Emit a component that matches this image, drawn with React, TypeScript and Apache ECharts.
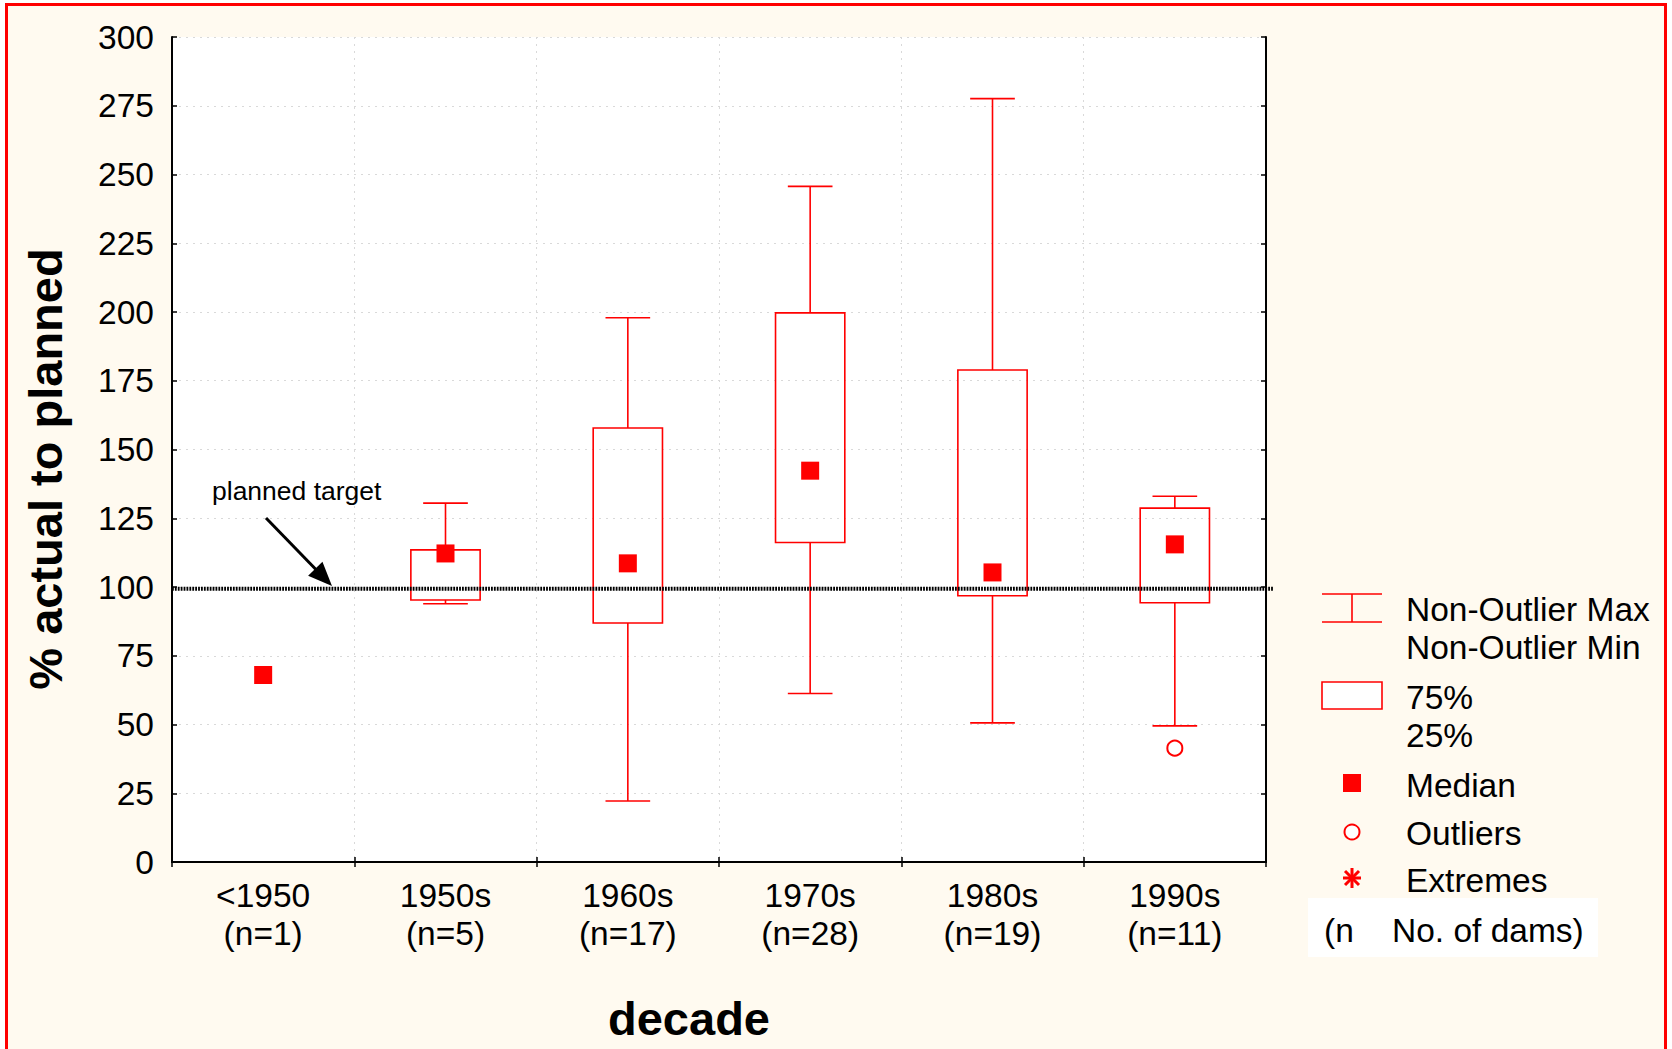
import React, { useEffect, useRef } from "react";
import * as echarts from "echarts";

const categories = ["<1950", "1950s", "1960s", "1970s", "1980s", "1990s"];
const counts = [1, 5, 17, 28, 19, 11];
const medians = [68.0, 112.2, 108.6, 142.3, 105.3, 115.5];
const whiskerMin = [null, 93.9, 22.2, 61.3, 50.6, 49.5];
const quartile1 = [null, 95.3, 86.9, 116.2, 96.8, 94.3];
const quartile3 = [null, 113.5, 157.8, 199.7, 178.9, 128.7];
const whiskerMax = [null, 130.5, 197.9, 245.7, 277.6, 133.0];
const outlierCategories = ["1990s"];
const outlierValues = [41.4];
const plannedTarget = 99.4;
const yMin = 0;
const yMax = 300;
const yInterval = 25;

const FONT = "'Liberation Sans', Arial, Helvetica, sans-serif";
const RED = "#ff0000";
const FS = 33.5;

export default function App() {
  const ref = useRef<HTMLDivElement>(null);

  useEffect(() => {
    if (!ref.current) return;
    const chart = echarts.init(ref.current, undefined, { renderer: "svg" });

    const labels = categories.map((c, i) => `${c}\n(n=${counts[i]})`);
    const boxData: number[][] = [];
    categories.forEach((_, i) => {
      if (whiskerMin[i] != null) {
        boxData.push([i, whiskerMin[i] as number, quartile1[i] as number, quartile3[i] as number, whiskerMax[i] as number]);
      }
    });
    const medianData = medians.map((m, i) => [i, m]);
    const outlierData = outlierCategories.map((c, k) => [categories.indexOf(c), outlierValues[k]]);

    const gridSplit = { show: true, lineStyle: { color: "#d9d9d9", type: [2, 5] as any, width: 1 } };
    const axLine = { show: true, lineStyle: { color: "#000", width: 2 } };
    const axTick = { show: true, inside: true, length: 5, lineStyle: { color: "#000", width: 1.5 } };

    // arrow geometry (annotation)
    const tip = [332, 586];
    const tail = [266, 518];
    const dx = tip[0] - tail[0];
    const dy = tip[1] - tail[1];
    const len = Math.sqrt(dx * dx + dy * dy);
    const ux = dx / len, uy = dy / len;
    const base = [tip[0] - 24 * ux, tip[1] - 24 * uy];
    const nx = -uy, ny = ux;

    const legendText = (text: string, x: number, y: number) => ({
      type: "text",
      x,
      y,
      style: { text, fontSize: FS, fontFamily: FONT, fill: "#000", align: "left", verticalAlign: "middle" },
    });
    const ast = { stroke: RED, lineWidth: 3 };

    chart.setOption({
      animation: false,
      backgroundColor: "transparent",
      grid: { left: 172, top: 37, right: 406, bottom: 187, show: true, backgroundColor: "#ffffff", borderWidth: 0 },
      xAxis: [
        {
          type: "category",
          data: labels,
          position: "bottom",
          boundaryGap: true,
          axisLine: axLine,
          axisTick: axTick,
          axisLabel: { fontSize: FS, lineHeight: 38, margin: 14, color: "#000", fontFamily: FONT },
          splitLine: gridSplit,
        },
        {
          type: "category",
          data: labels,
          position: "top",
          boundaryGap: true,
          axisLine: axLine,
          axisTick: axTick,
          axisLabel: { show: false },
          splitLine: { show: false },
        },
      ],
      yAxis: [
        {
          type: "value",
          min: yMin,
          max: yMax,
          interval: yInterval,
          axisLine: axLine,
          axisTick: axTick,
          axisLabel: { fontSize: FS, margin: 18, color: "#000", fontFamily: FONT },
          splitLine: gridSplit,
        },
        {
          type: "value",
          min: yMin,
          max: yMax,
          interval: yInterval,
          position: "right",
          axisLine: axLine,
          axisTick: axTick,
          axisLabel: { show: false },
          splitLine: { show: false },
        },
      ],
      series: [
        {
          type: "custom",
          name: "box",
          xAxisIndex: 0,
          yAxisIndex: 0,
          z: 2,
          data: boxData,
          encode: { x: 0, y: [1, 2, 3, 4] },
          renderItem: (params: any, api: any) => {
            const x = api.value(0);
            const lo = api.coord([x, api.value(1)]);
            const b1 = api.coord([x, api.value(2)]);
            const b3 = api.coord([x, api.value(3)]);
            const hi = api.coord([x, api.value(4)]);
            const band = api.size([1, 0])[0];
            const bw = band * 0.38;
            const cw = band * 0.245;
            const cx = lo[0];
            const st = { stroke: RED, lineWidth: 1.6, fill: "none" };
            return {
              type: "group",
              children: [
                { type: "line", shape: { x1: cx, y1: hi[1], x2: cx, y2: b3[1] }, style: st },
                { type: "line", shape: { x1: cx, y1: b1[1], x2: cx, y2: lo[1] }, style: st },
                { type: "line", shape: { x1: cx - cw / 2, y1: hi[1], x2: cx + cw / 2, y2: hi[1] }, style: st },
                { type: "line", shape: { x1: cx - cw / 2, y1: lo[1], x2: cx + cw / 2, y2: lo[1] }, style: st },
                { type: "rect", shape: { x: cx - bw / 2, y: b3[1], width: bw, height: b1[1] - b3[1] }, style: st },
              ],
            };
          },
        },
        {
          type: "custom",
          name: "planned target",
          xAxisIndex: 0,
          yAxisIndex: 0,
          z: 3,
          clip: false,
          data: [[0, plannedTarget]],
          renderItem: (params: any, api: any) => {
            const y = api.coord([0, api.value(1)])[1];
            const cs = params.coordSys;
            return {
              type: "line",
              shape: { x1: cs.x, y1: y, x2: cs.x + cs.width + 7, y2: y },
              style: { stroke: "#000", lineWidth: 4, lineDash: [1.8, 1.1] },
            };
          },
        },
        {
          type: "scatter",
          name: "Median",
          xAxisIndex: 0,
          yAxisIndex: 0,
          z: 4,
          symbol: "rect",
          symbolSize: 18,
          itemStyle: { color: RED, opacity: 1 },
          data: medianData,
        },
        {
          type: "scatter",
          name: "Outliers",
          xAxisIndex: 0,
          yAxisIndex: 0,
          z: 4,
          symbol: "circle",
          symbolSize: 15,
          itemStyle: { color: "#ffffff", borderColor: RED, borderWidth: 2, opacity: 1 },
          data: outlierData,
        },
      ],
      graphic: [
        {
          type: "text",
          x: 45,
          y: 469,
          rotation: Math.PI / 2,
          style: { text: "% actual to planned", fontSize: 47, fontWeight: "bold", fontFamily: FONT, fill: "#000", align: "center", verticalAlign: "middle" },
        },
        {
          type: "text",
          x: 689,
          y: 1018,
          style: { text: "decade", fontSize: 47, fontWeight: "bold", fontFamily: FONT, fill: "#000", align: "center", verticalAlign: "middle" },
        },
        {
          type: "text",
          x: 212,
          y: 491,
          z: 10,
          style: { text: "planned target", fontSize: 26.5, fontFamily: FONT, fill: "#000", align: "left", verticalAlign: "middle" },
        },
        {
          type: "line",
          z: 10,
          shape: { x1: tail[0], y1: tail[1], x2: base[0] + 2 * ux, y2: base[1] + 2 * uy },
          style: { stroke: "#000", lineWidth: 3 },
        },
        {
          type: "polygon",
          z: 10,
          shape: { points: [tip, [base[0] + 10 * nx, base[1] + 10 * ny], [base[0] - 10 * nx, base[1] - 10 * ny]] },
          style: { fill: "#000" },
        },
        // legend
        { type: "line", shape: { x1: 1322, y1: 594, x2: 1382, y2: 594 }, style: { stroke: RED, lineWidth: 1.6 } },
        { type: "line", shape: { x1: 1322, y1: 622, x2: 1382, y2: 622 }, style: { stroke: RED, lineWidth: 1.6 } },
        { type: "line", shape: { x1: 1352, y1: 594, x2: 1352, y2: 622 }, style: { stroke: RED, lineWidth: 1.6 } },
        legendText("Non-Outlier Max", 1406, 609),
        legendText("Non-Outlier Min", 1406, 647),
        { type: "rect", shape: { x: 1322, y: 682, width: 60, height: 27 }, style: { fill: "#fff", stroke: RED, lineWidth: 1.6 } },
        legendText("75%", 1406, 697),
        legendText("25%", 1406, 735),
        { type: "rect", shape: { x: 1343, y: 774, width: 18, height: 18 }, style: { fill: RED } },
        legendText("Median", 1406, 785),
        { type: "circle", shape: { cx: 1352, cy: 832, r: 7.5 }, style: { fill: "#fff", stroke: RED, lineWidth: 2 } },
        legendText("Outliers", 1406, 833),
        { type: "line", shape: { x1: 1352, y1: 868, x2: 1352, y2: 888 }, style: ast },
        { type: "line", shape: { x1: 1343, y1: 878, x2: 1361, y2: 878 }, style: ast },
        { type: "line", shape: { x1: 1345, y1: 871, x2: 1359, y2: 885 }, style: ast },
        { type: "line", shape: { x1: 1359, y1: 871, x2: 1345, y2: 885 }, style: ast },
        legendText("Extremes", 1406, 880),
        { type: "rect", shape: { x: 1308, y: 898, width: 290, height: 59 }, style: { fill: "#ffffff" } },
        legendText("(n", 1324, 930),
        legendText("No. of dams)", 1392, 930),
      ],
    });

    return () => chart.dispose();
  }, []);

  return (
    <div style={{ position: "absolute", left: 0, top: 0, width: 1672, height: 1049, background: "#ffffff", overflow: "hidden" }}>
      <div
        style={{
          position: "absolute",
          left: 5,
          top: 3,
          width: 1656,
          height: 1100,
          background: "#fffaf0",
          border: "3px solid #ff0000",
        }}
      />
      <div ref={ref} style={{ position: "absolute", left: 0, top: 0, width: 1672, height: 1049 }} />
    </div>
  );
}
